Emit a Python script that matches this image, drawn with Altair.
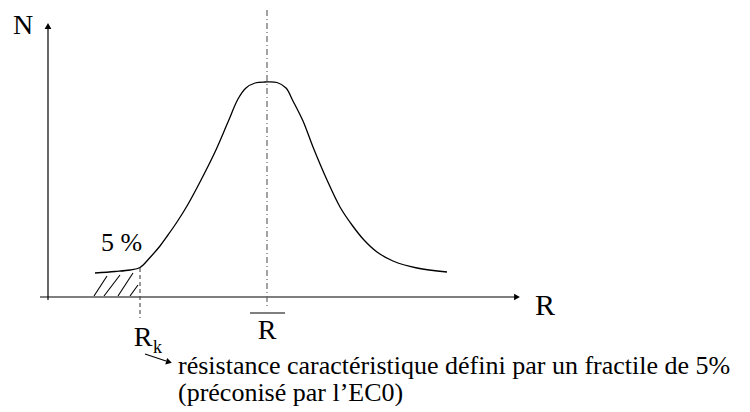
import altair as alt
import pandas as pd

# ---- data (diagram units = picture pixels) ----
curve_x = [95, 115, 130, 140, 150, 160, 168, 177, 187, 200, 215, 228, 238, 246, 255, 265, 277, 286, 293, 303, 313, 327, 340, 352, 364, 377, 393, 417, 447]
curve_y = [273, 271.5, 270, 267.5, 257.5, 246, 235, 222, 206, 182, 152, 122, 99, 88, 83, 82, 82.5, 88, 101, 121, 147, 180, 207, 225, 240, 252, 261, 268, 272]

hatch_x1 = [94, 104, 118, 130]
hatch_y1 = [296, 296, 296, 296]
hatch_x2 = [107, 120, 133, 138]
hatch_y2 = [276, 275, 273, 285]

# axes: horizontal then vertical
axis_x1 = [40, 48]
axis_y1 = [297, 300]
axis_x2 = [517, 48]
axis_y2 = [297, 27]

# arrow heads (centre points) and their orientation
head_x = [517, 48, 169]
head_y = [297, 26, 362]
head_angle = [90, 0, 106]

mean_x = 267          # R-bar dash-dot line
mean_y_top, mean_y_bot = 10, 309
rk_x = 140            # R_k dashed line
rk_y_top, rk_y_bot = 268, 318
bar_x1, bar_x2, bar_y = 250, 285, 313
pointer = [145, 354, 166, 361]

labels = ["N", "R", "5 %", "R", "R", "k",
          "résistance caractéristique défini par un fractile de 5%",
          "(préconisé par l’EC0)"]
label_x = [23, 545, 101, 267, 143, 153, 178, 178]
label_y = [34, 315, 251, 339, 346, 353, 374, 401]
label_size = [28, 30, 26, 28, 28, 18, 26, 26]
label_align = ["center", "center", "left", "center", "center", "left", "left", "left"]

# ---- chart ----
W, H = 734, 396
xs = alt.Scale(domain=[8, 8 + W], nice=False, zero=False)
ys = alt.Scale(domain=[8 + H, 8], nice=False, zero=False)
X = alt.X("x:Q", scale=xs, axis=None)
Y = alt.Y("y:Q", scale=ys, axis=None)

curve = alt.Chart(pd.DataFrame({"x": curve_x, "y": curve_y, "o": list(range(len(curve_x)))})).mark_line(
    color="black", strokeWidth=1.3, interpolate="catmull-rom"
).encode(x=X, y=Y, order="o:Q")

hatch = alt.Chart(pd.DataFrame({"x": hatch_x1, "y": hatch_y1, "x2": hatch_x2, "y2": hatch_y2})).mark_rule(
    color="black", strokeWidth=1.1
).encode(x=X, y=Y, x2="x2:Q", y2="y2:Q")

axes = alt.Chart(pd.DataFrame({"x": axis_x1, "y": axis_y1, "x2": axis_x2, "y2": axis_y2})).mark_rule(
    color="black", strokeWidth=1.2
).encode(x=X, y=Y, x2="x2:Q", y2="y2:Q")

heads = alt.Chart(pd.DataFrame({"x": head_x, "y": head_y, "a": head_angle})).mark_point(
    shape="triangle-up", filled=True, color="black", size=45, opacity=1
).encode(x=X, y=Y, angle=alt.Angle("a:Q", scale=None))

mean_line = alt.Chart(pd.DataFrame({"x": [mean_x], "y": [mean_y_top], "y2": [mean_y_bot]})).mark_rule(
    color="#666666", strokeWidth=1.2, strokeDash=[6, 3, 1, 3]
).encode(x=X, y=Y, y2="y2:Q")

rk_line = alt.Chart(pd.DataFrame({"x": [rk_x], "y": [rk_y_top], "y2": [rk_y_bot]})).mark_rule(
    color="#444444", strokeWidth=1.1, strokeDash=[4, 3]
).encode(x=X, y=Y, y2="y2:Q")

small_lines = alt.Chart(pd.DataFrame({
    "x": [bar_x1, pointer[0]], "y": [bar_y, pointer[1]],
    "x2": [bar_x2, pointer[2]], "y2": [bar_y, pointer[3]]})).mark_rule(
    color="black", strokeWidth=1.2
).encode(x=X, y=Y, x2="x2:Q", y2="y2:Q")

text_layers = []
for t, x, y, s, al in zip(labels, label_x, label_y, label_size, label_align):
    text_layers.append(
        alt.Chart(pd.DataFrame({"x": [x], "y": [y], "t": [t]})).mark_text(
            font="Liberation Serif", fontSize=s, align=al, baseline="alphabetic"
        ).encode(x=X, y=Y, text="t:N")
    )

chart = alt.layer(hatch, axes, mean_line, rk_line, curve, small_lines, heads, *text_layers).properties(
    width=W, height=H, padding=0
).configure_view(stroke=None)

chart.save("out.html", embed_options={"renderer": "svg", "actions": False})
